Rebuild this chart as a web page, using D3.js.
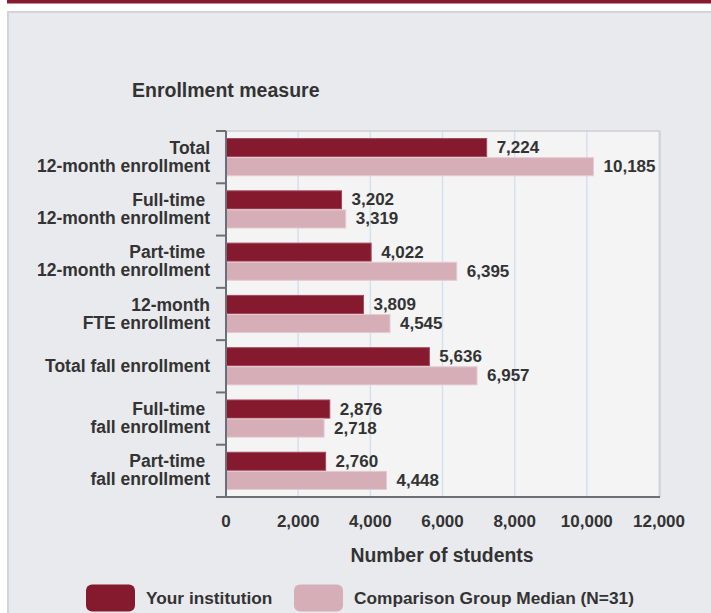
<!DOCTYPE html>
<html>
<head>
<meta charset="utf-8">
<script src="https://cdn.jsdelivr.net/npm/d3@7"></script>
<style>
  body { margin: 0; background: #fff; }
  svg { display: block; font-family: "Liberation Sans", Arial, sans-serif; }
</style>
</head>
<body>
<svg width="711" height="613"></svg>
<script>
// categories, each label split into its lines
const categories = ["Total 12-month", "Full-time 12-month", "Part-time 12-month", "FTE", "Total fall", "Full-time fall", "Part-time fall"];
const catLines = [
  ["Total", "12-month enrollment"],
  ["Full-time ", "12-month enrollment"],
  ["Part-time ", "12-month enrollment"],
  ["12-month", "FTE enrollment"],
  ["Total fall enrollment"],
  ["Full-time ", "fall enrollment"],
  ["Part-time ", "fall enrollment"]
];
const institution = [7224, 3202, 4022, 3809, 5636, 2876, 2760];
const comparison = [10185, 3319, 6395, 4545, 6957, 2718, 4448];
const xTicks = [0, 2000, 4000, 6000, 8000, 10000, 12000];
const seriesNames = ["Your institution", "Comparison Group Median (N=31)"];

const maroon = "#851a2e", pink = "#d5aeb7";
const textColor = "#333333";

const plotLeft = 226, plotTop = 131, plotRight = 659, plotBottom = 497;

const svg = d3.select("svg");

// top strip and panel
svg.append("rect").attr("x", 7).attr("y", 0).attr("width", 704).attr("height", 3.5).attr("fill", "#871b2f");
svg.append("rect").attr("x", 8).attr("y", 12).attr("width", 710).attr("height", 610)
  .attr("fill", "#e9eaee").attr("stroke", "#d3d4d8").attr("stroke-width", 2);

// scales
const x = d3.scaleLinear().domain([0, 12000]).range([plotLeft, plotRight]);
const y = d3.scaleBand().domain(categories).range([plotTop, plotBottom])
  .paddingInner(0.27).paddingOuter(0.135);
const ySub = d3.scaleBand().domain([0, 1]).range([0, y.bandwidth()]);

// plot background
svg.append("rect").attr("x", plotLeft).attr("y", plotTop)
  .attr("width", plotRight - plotLeft).attr("height", plotBottom - plotTop)
  .attr("fill", "#f4f4f5");

// gridlines
svg.append("g").selectAll("line").data(xTicks.slice(1)).enter().append("line")
  .attr("x1", d => x(d)).attr("x2", d => x(d))
  .attr("y1", plotTop).attr("y2", plotBottom)
  .attr("stroke", "#d5e1ef").attr("stroke-width", 1.5);

// plot borders top + right
svg.append("line").attr("x1", plotLeft).attr("x2", plotRight + 1).attr("y1", plotTop).attr("y2", plotTop)
  .attr("stroke", "#cfcfd2").attr("stroke-width", 1.5);
svg.append("line").attr("x1", plotRight + 1).attr("x2", plotRight + 1).attr("y1", plotTop).attr("y2", plotBottom)
  .attr("stroke", "#cfcfd2").attr("stroke-width", 1.5);

// bars
const rows = categories.map((c, i) => ({cat: c, vals: [institution[i], comparison[i]]}));
const groups = svg.append("g").selectAll("g").data(rows).enter().append("g")
  .attr("transform", d => `translate(0, ${y(d.cat)})`);

groups.selectAll("rect").data(d => d.vals.map((v, k) => ({v, k}))).enter().append("rect")
  .attr("x", x(0))
  .attr("y", d => ySub(d.k) + 0.5)
  .attr("width", d => x(d.v) - x(0))
  .attr("height", ySub.bandwidth() - 1)
  .attr("fill", d => d.k === 0 ? maroon : pink)
  .attr("stroke", d => d.k === 0 ? "#a2475a" : "#e5cbd1")
  .attr("stroke-width", 1);

groups.selectAll("text").data(d => d.vals.map((v, k) => ({v, k}))).enter().append("text")
  .attr("x", d => x(d.v) + 10)
  .attr("y", d => ySub(d.k) + ySub.bandwidth() / 2 + 5.5)
  .attr("font-size", "17px").attr("font-weight", "bold").attr("fill", textColor)
  .text(d => d3.format(",")(d.v));

// y axis line and category ticks
const axisColor = "#6c6f78";
svg.append("line").attr("x1", plotLeft).attr("x2", plotLeft).attr("y1", plotTop).attr("y2", plotBottom)
  .attr("stroke", axisColor).attr("stroke-width", 2);
const boundaries = categories.map(c => y(c) - y.step() * y.paddingInner() / 2);
boundaries[0] = plotTop;
boundaries.push(plotBottom);
svg.append("g").selectAll("line").data(boundaries).enter().append("line")
  .attr("x1", plotLeft - 10).attr("x2", plotLeft)
  .attr("y1", d => d).attr("y2", d => d)
  .attr("stroke", axisColor).attr("stroke-width", 2);

// x axis line
svg.append("line").attr("x1", plotLeft - 10).attr("x2", plotRight + 1).attr("y1", plotBottom).attr("y2", plotBottom)
  .attr("stroke", axisColor).attr("stroke-width", 2);

// x tick labels
svg.append("g").selectAll("text").data(xTicks).enter().append("text")
  .attr("x", d => x(d)).attr("y", 527)
  .attr("text-anchor", "middle")
  .attr("font-size", "17px").attr("font-weight", "bold").attr("fill", textColor)
  .text(d => d3.format(",")(d));

// category labels
const catG = svg.append("g").selectAll("text").data(rows).enter().append("text")
  .attr("text-anchor", "end")
  .attr("font-size", "17.5px").attr("font-weight", "bold").attr("fill", textColor)
  .style("white-space", "pre");
catG.each(function(d, i) {
  const lines = catLines[i];
  const cy = y(d.cat) + y.bandwidth() / 2;
  const t = d3.select(this);
  if (lines.length === 1) {
    t.append("tspan").attr("x", 210).attr("y", cy + 6).text(lines[0]);
  } else {
    t.append("tspan").attr("x", 210).attr("y", cy - 3.5).text(lines[0]);
    t.append("tspan").attr("x", 210).attr("y", cy + 14.5).text(lines[1]);
  }
});

// titles
svg.append("text").attr("x", 132).attr("y", 97)
  .attr("font-size", "19.5px").attr("font-weight", "bold").attr("fill", textColor)
  .text("Enrollment measure");
svg.append("text").attr("x", 442).attr("y", 562).attr("text-anchor", "middle")
  .attr("font-size", "19.4px").attr("font-weight", "bold").attr("fill", textColor)
  .text("Number of students");

// legend
const legendX = [86, 294];
const legend = svg.append("g").selectAll("g").data(seriesNames).enter().append("g");
legend.append("rect")
  .attr("x", (d, i) => legendX[i]).attr("y", 584.5)
  .attr("width", 49).attr("height", 27).attr("rx", 6)
  .attr("fill", (d, i) => i === 0 ? maroon : pink);
legend.append("text")
  .attr("x", (d, i) => legendX[i] + 60).attr("y", 603.5)
  .attr("font-size", "17.3px").attr("font-weight", "bold").attr("fill", textColor)
  .text(d => d);
</script>
</body>
</html>
